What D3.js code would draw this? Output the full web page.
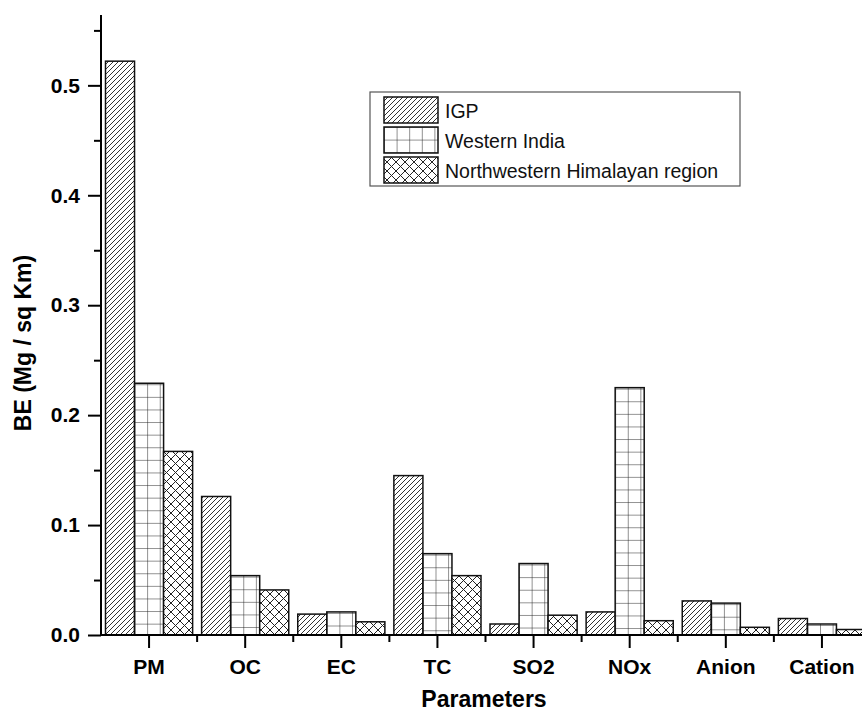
<!DOCTYPE html>
<html>
<head>
<meta charset="utf-8">
<script src="https://cdn.jsdelivr.net/npm/d3@7"></script>
<style>
  body { margin: 0; background: #fff; }
  svg { display: block; font-family: "Liberation Sans", Arial, sans-serif; }
</style>
</head>
<body>
<svg id="chart" width="862" height="713"></svg>
<script>
// values
const categories = ["PM", "OC", "EC", "TC", "SO2", "NOx", "Anion", "Cation"];
const seriesNames = ["IGP", "Western India", "Northwestern Himalayan region"];
const igp = [0.522, 0.126, 0.019, 0.145, 0.010, 0.021, 0.031, 0.015];
const westernIndia = [0.229, 0.054, 0.021, 0.074, 0.065, 0.225, 0.029, 0.010];
const nwHimalaya = [0.167, 0.041, 0.012, 0.054, 0.018, 0.013, 0.007, 0.005];
const yTicks = [0, 0.1, 0.2, 0.3, 0.4, 0.5];

const seriesValues = [igp, westernIndia, nwHimalaya];
const patternIds = ["hatch", "grid", "cross"];

const svg = d3.select("#chart");
const x0 = 101, yBase = 635;

const y = d3.scaleLinear().domain([0, 0.564]).range([yBase, 15]);
const x = d3.scaleBand().domain(categories).range([x0, 870]).padding(0);
const xs = d3.scaleBand().domain(seriesNames).range([4.5, x.bandwidth() - 4.5]).padding(0);

const defs = svg.append("defs");

// diagonal hatch
const hatch = defs.append("pattern")
    .attr("id", "hatch")
    .attr("patternUnits", "userSpaceOnUse")
    .attr("width", 5).attr("height", 5);
hatch.append("path")
    .attr("d", "M-1,1 L1,-1 M0,5 L5,0 M4,6 L6,4")
    .attr("stroke", "#333").attr("stroke-width", 1);

// crosshatch
const cross = defs.append("pattern")
    .attr("id", "cross")
    .attr("patternUnits", "userSpaceOnUse")
    .attr("width", 9).attr("height", 9);
cross.append("path")
    .attr("d", "M0,0 L9,9 M9,0 L0,9 M-1,8 L1,10 M8,-1 L10,1 M-1,1 L1,-1 M8,10 L10,8")
    .attr("stroke", "#222").attr("stroke-width", 1);

// grid pattern, one per bar so lines start at the bar's left edge
function gridPattern(id, px, py) {
    const p = defs.append("pattern")
        .attr("id", id)
        .attr("patternUnits", "userSpaceOnUse")
        .attr("x", px).attr("y", py)
        .attr("width", 12.6).attr("height", 12.6);
    p.append("path")
        .attr("d", "M0,0 H12.6 M0,0 V12.6")
        .attr("stroke", "#222").attr("stroke-width", 1);
}

// bars
const bars = [];
categories.forEach((c, i) => {
    seriesNames.forEach((s, j) => {
        bars.push({ cat: c, series: s, j: j, value: seriesValues[j][i] });
    });
});

const g = svg.append("g");
bars.forEach((d, k) => {
    const bx = x(d.cat) + xs(d.series);
    let fill = `url(#${patternIds[d.j]})`;
    if (d.j === 1) {
        gridPattern("grid" + k, bx, y(d.value) + 1);
        fill = `url(#grid${k})`;
    }
    g.append("rect")
        .attr("x", bx)
        .attr("y", y(d.value))
        .attr("width", xs.bandwidth())
        .attr("height", yBase - y(d.value))
        .attr("fill", "#fff");
    g.append("rect")
        .attr("x", bx)
        .attr("y", y(d.value))
        .attr("width", xs.bandwidth())
        .attr("height", yBase - y(d.value))
        .attr("fill", fill)
        .attr("stroke", "#111")
        .attr("stroke-width", 1.5);
});

// y axis
const yMinor = d3.range(0.05, 0.56, 0.1);
svg.append("g")
    .attr("transform", `translate(${x0},0)`)
    .call(d3.axisLeft(y).tickValues(yMinor).tickSize(7).tickFormat(""))
    .call(a => a.select(".domain").remove())
    .call(a => a.selectAll("line").attr("stroke-width", 2));

svg.append("g")
    .attr("transform", `translate(${x0},0)`)
    .call(d3.axisLeft(y).tickValues(yTicks).tickSize(13).tickPadding(8).tickFormat(d3.format(".1f")))
    .call(a => a.select(".domain").attr("d", `M0,${yBase}V15`).attr("stroke-width", 2))
    .call(a => a.selectAll("line").attr("stroke-width", 2))
    .call(a => a.selectAll("text")
        .attr("font-size", 21).attr("font-weight", "bold")
        .attr("font-family", "Liberation Sans, Arial, sans-serif").attr("fill", "#000"));

// x axis
const bounds = categories.map(c => x(c)).concat([x.range()[1]]);
const xa = svg.append("g").attr("transform", `translate(0,${yBase})`);
xa.append("line")
    .attr("x1", x0 - 1).attr("x2", 870)
    .attr("stroke", "#000").attr("stroke-width", 2);
xa.selectAll("line.minor")
    .data(bounds.slice(1))
    .join("line")
    .attr("class", "minor")
    .attr("x1", d => d).attr("x2", d => d)
    .attr("y1", 0).attr("y2", 7)
    .attr("stroke", "#000").attr("stroke-width", 2);
xa.selectAll("line.major")
    .data(categories)
    .join("line")
    .attr("class", "major")
    .attr("x1", d => x(d) + x.bandwidth() / 2)
    .attr("x2", d => x(d) + x.bandwidth() / 2)
    .attr("y1", 0).attr("y2", 13)
    .attr("stroke", "#000").attr("stroke-width", 2);
xa.selectAll("text")
    .data(categories)
    .join("text")
    .attr("x", d => x(d) + x.bandwidth() / 2)
    .attr("y", 39)
    .attr("text-anchor", "middle")
    .attr("font-size", 21)
    .attr("font-weight", "bold")
    .text(d => d);

// axis titles
svg.append("text")
    .attr("x", 484).attr("y", 707)
    .attr("text-anchor", "middle")
    .attr("font-size", 23).attr("font-weight", "bold")
    .text("Parameters");

svg.append("text")
    .attr("transform", "translate(31,343) rotate(-90)")
    .attr("text-anchor", "middle")
    .attr("font-size", 23).attr("font-weight", "bold")
    .text("BE (Mg / sq Km)");

// legend
const lg = svg.append("g");
lg.append("rect")
    .attr("x", 370).attr("y", 92)
    .attr("width", 370).attr("height", 94)
    .attr("fill", "#fff").attr("stroke", "#555").attr("stroke-width", 1.2);

seriesNames.forEach((s, j) => {
    const ry = 97 + j * 30;
    let fill = `url(#${patternIds[j]})`;
    if (j === 1) {
        gridPattern("gridLegend", 384, ry);
        fill = "url(#gridLegend)";
    }
    lg.append("rect")
        .attr("x", 384).attr("y", ry)
        .attr("width", 54).attr("height", 26)
        .attr("fill", fill)
        .attr("stroke", "#111").attr("stroke-width", 1.5);
    lg.append("text")
        .attr("x", 445).attr("y", ry + 21)
        .attr("font-size", 19.5)
        .attr("fill", "#111")
        .text(s);
});
</script>
</body>
</html>
